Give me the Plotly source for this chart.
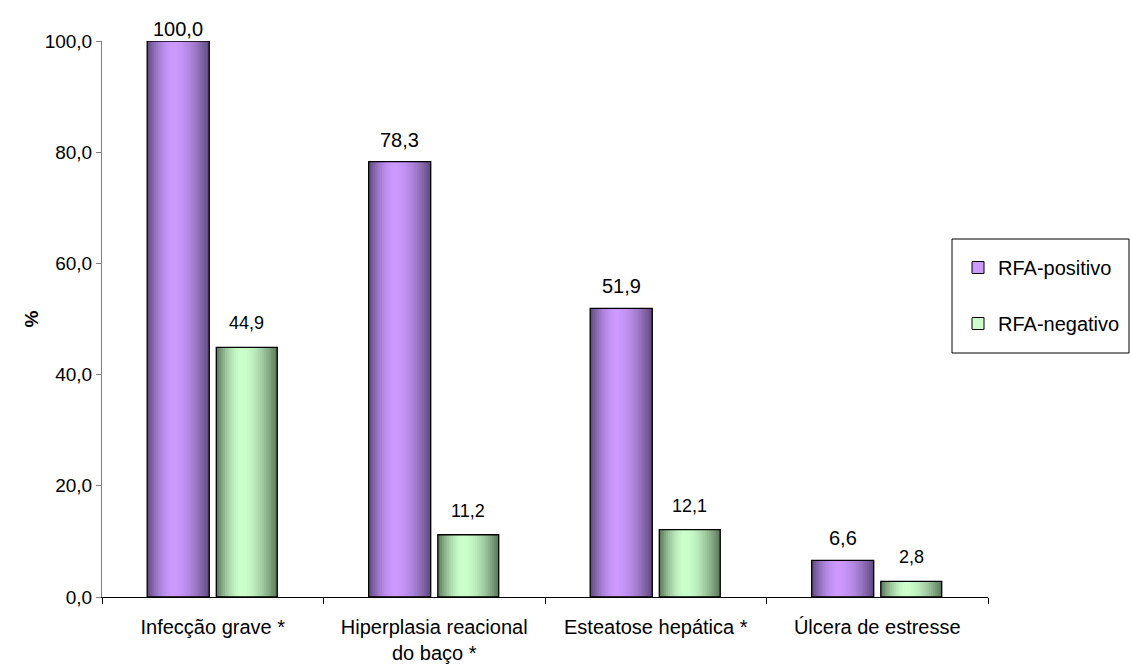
import plotly.graph_objects as go

# Data
categories = ["Infecção grave *", "Hiperplasia reacional<br>do baço *",
              "Esteatose hepática *", "Úlcera de estresse"]
rfa_positivo = [100.0, 78.3, 51.9, 6.6]
rfa_negativo = [44.9, 11.2, 12.1, 2.8]
series_names = ["RFA-positivo", "RFA-negativo"]
y_ticks = [0, 20, 40, 60, 80, 100]

# Figure geometry (pixels)
W, H = 1130, 666
L, R, T, B = 102, 142, 41, 69
PW = W - L - R
PH = H - T - B

# Bar placement inside each category slot (category units)
BAR_W = [0.28, 0.275]
BAR_OFF = [-0.296, 0.016]
LIGHT = [(204, 153, 255), (204, 255, 204)]
DARK = [(92, 72, 122), (88, 116, 88)]
N_STRIPS = 28
LABEL_SIZE = [20, 18]
LABEL_GAP = [22, 24]   # px from bar top to label centre
LABEL_MIN_TOP = 29     # labels are kept inside the figure


def shade(dark, light, u):
    # cylinder-like shading: brightest a little left of centre
    peak = 0.42
    d = abs(u - peak) / (peak if u < peak else 1 - peak)
    f = max(0.0, 1 - d ** 1.8)
    return "rgb(%d,%d,%d)" % tuple(round(dk + (lt - dk) * f) for dk, lt in zip(dark, light))


fig = go.Figure()
for s, vals in enumerate([rfa_positivo, rfa_negativo]):
    w, off = BAR_W[s], BAR_OFF[s]
    for k in range(N_STRIPS):
        u = (k + 0.5) / N_STRIPS
        start = off + w * k / N_STRIPS
        fig.add_trace(go.Bar(
            x=categories, y=vals, width=w - w * k / N_STRIPS, offset=start,
            marker=dict(color=shade(DARK[s], LIGHT[s], u), line=dict(width=0)),
            showlegend=False, hoverinfo="skip"))
    # outline
    fig.add_trace(go.Bar(
        x=categories, y=vals, width=w, offset=off,
        marker=dict(color="rgba(0,0,0,0)", line=dict(color="black", width=1.3)),
        showlegend=False, hoverinfo="skip"))
    # legend entry
    fig.add_trace(go.Bar(
        x=[categories[0]], y=[None], name=series_names[s],
        marker=dict(color=shade(DARK[s], LIGHT[s], 0.42), line=dict(color="black", width=1)),
        legendgroup=series_names[s]))

# value labels
annotations = []
for s, vals in enumerate([rfa_positivo, rfa_negativo]):
    for i, v in enumerate(vals):
        top_px = T + PH * (1 - v / 100)
        centre = max(top_px - LABEL_GAP[s], LABEL_MIN_TOP)
        annotations.append(dict(
            x=i + BAR_OFF[s] + BAR_W[s] / 2, y=v, xref="x", yref="y",
            text=f"{v:.1f}".replace(".", ","), showarrow=False,
            yanchor="middle", yshift=top_px - centre,
            font=dict(size=LABEL_SIZE[s], color="black")))

annotations.append(dict(
    x=(18 - L) / PW, y=0.5, xref="paper", yref="paper", text="<b>%</b>",
    textangle=-90, showarrow=False, font=dict(size=19, color="black")))

fig.update_layout(
    width=W, height=H,
    margin=dict(l=L, r=R, t=T, b=B, pad=0, autoexpand=False),
    paper_bgcolor="white", plot_bgcolor="white",
    barmode="overlay",
    separators=",.",
    font=dict(family="Liberation Sans, Arial, sans-serif", color="black"),
    annotations=annotations,
    showlegend=True,
    legend=dict(
        x=(958 - L) / PW, y=1 - (248 - T) / PH, xanchor="left", yanchor="top",
        bgcolor="rgba(0,0,0,0)", borderwidth=0,
        font=dict(size=20), tracegroupgap=27, traceorder="grouped"),
    shapes=[dict(type="rect", xref="paper", yref="paper",
                 x0=(952 - L) / PW, x1=(1129 - L) / PW,
                 y0=1 - (353 - T) / PH, y1=1 - (239 - T) / PH,
                 line=dict(color="black", width=1), fillcolor="rgba(0,0,0,0)")],
)

fig.update_xaxes(
    type="category", categoryorder="array", categoryarray=categories,
    range=[-0.5, 3.5], showline=True, linecolor="black", linewidth=1,
    ticks="outside", tickson="boundaries", ticklen=6, tickcolor="black",
    ticklabelstandoff=12,
    tickfont=dict(size=20), showgrid=False, zeroline=False)

fig.update_yaxes(
    range=[0, 100], tickvals=y_ticks, tickformat=".1f",
    showline=True, linecolor="#808080", linewidth=1,
    ticks="outside", ticklen=5, tickcolor="#808080",
    tickfont=dict(size=19), showgrid=False, zeroline=False)

fig.write_html("out.html")
